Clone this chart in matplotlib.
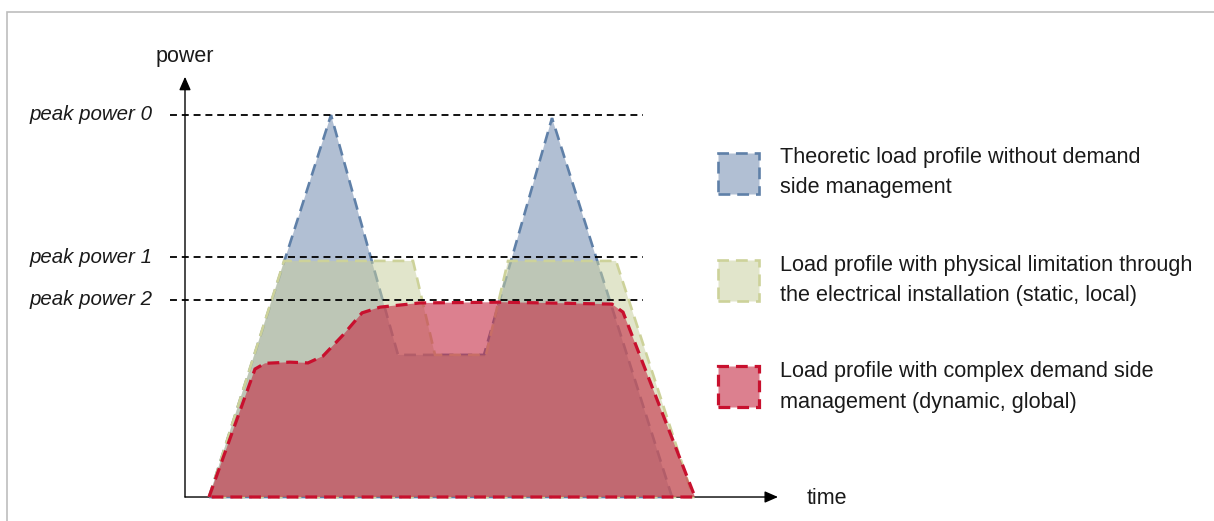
import matplotlib.pyplot as plt
from matplotlib.patches import Rectangle

plt.rcParams["font.family"] = ["Liberation Sans", "DejaVu Sans"]
plt.rcParams["lines.scale_dashes"] = False

# Load profiles (time in arbitrary units, power in % of peak power 0)
blue_t = [4.8, 29.2, 42.6, 59.8, 73.4, 97.4]
blue_p = [0, 100, 37.2, 37.2, 99.2, 0]

yellow_t = [4.8, 19.8, 45.6, 50.0, 60.2, 64.6, 86.2, 101.6]
yellow_p = [0, 61.8, 61.8, 37.2, 37.2, 61.8, 61.8, 0]

red_t = [4.8, 14.0, 16.0, 21.0, 24.6, 27.6, 31.6, 35.4, 39.0, 47.0, 63.0, 85.4, 87.6, 102.0]
red_p = [0, 33.5, 35.0, 35.3, 35.1, 36.9, 42.4, 48.2, 49.7, 50.8, 51.0, 50.5, 48.4, 0]

peak_levels = [100, 62.8, 51.6]
peak_labels = ["peak power 0", "peak power 1", "peak power 2"]

legend_labels = [
    "Theoretic load profile without demand\nside management",
    "Load profile with physical limitation through\nthe electrical installation (static, local)",
    "Load profile with complex demand side\nmanagement (dynamic, global)",
]

fill_colors = ["#b1bfd3", (0.784, 0.808, 0.616, 0.53), (0.773, 0.169, 0.267, 0.6)]
edge_colors = ["#5f80a8", "#cdd29a", "#c8102e"]
edge_widths = [1.9, 1.9, 2.3]
dash = (0, (8.5, 5))

fig = plt.figure(figsize=(12.14, 5.21), dpi=100)
ax = fig.add_axes([0, 0, 1, 1])
ax.set_xlim(-37, 205.8)
ax.set_ylim(-6.28, 130.1)
ax.axis("off")

# frame around the figure
fig.patches.append(
    Rectangle((7 / 1214, -0.1), 1.1, (521 - 12) / 521 + 0.1, transform=fig.transFigure,
              fill=False, edgecolor="#bdbdbd", linewidth=1.2)
)

# axes arrows
arrow = dict(arrowstyle="-|>,head_length=0.8,head_width=0.35", color="black",
             lw=1.0, shrinkA=0, shrinkB=0)
ax.annotate("", xy=(0, 110), xytext=(0, 0), arrowprops=arrow, zorder=1)
ax.annotate("", xy=(118.6, 0), xytext=(0, 0), arrowprops=arrow, zorder=1)
ax.text(0, 115.2, "power", ha="center", va="center", fontsize=15.5, color="#1a1a1a")
ax.text(124.4, -0.3, "time", ha="left", va="center", fontsize=15.5, color="#1a1a1a")

# profiles
profiles = [(blue_t, blue_p), (yellow_t, yellow_p), (red_t, red_p)]
for i, (t, p) in enumerate(profiles):
    ax.fill(t, p, facecolor=fill_colors[i], edgecolor=edge_colors[i],
            linewidth=edge_widths[i], linestyle=dash, zorder=2 + i)

# peak power levels
for lvl, lab in zip(peak_levels, peak_labels):
    ax.plot([-3, 91.6], [lvl, lvl], color="black", lw=1.3,
            linestyle=(0, (5, 3.5)), zorder=6)
    ax.text(-6.4, lvl, lab, ha="right", va="center", fontsize=14.8,
            style="italic", color="#1a1a1a")

# legend
box_y = [(521 - 194) / 521, (521 - 301) / 521, (521 - 407) / 521]
text_y = [(521 - 172.5) / 521, (521 - 280.5) / 521, (521 - 387) / 521]
for i in range(3):
    ax.add_patch(Rectangle((718 / 1214, box_y[i]), 41 / 1214, 41 / 521,
                           transform=ax.transAxes, facecolor=fill_colors[i],
                           edgecolor=edge_colors[i], linewidth=edge_widths[i],
                           linestyle=dash))
    ax.text(780 / 1214, text_y[i], legend_labels[i], transform=ax.transAxes,
            ha="left", va="center", fontsize=15.6, linespacing=1.6, color="#1a1a1a")

plt.savefig("out.png", dpi=100)
